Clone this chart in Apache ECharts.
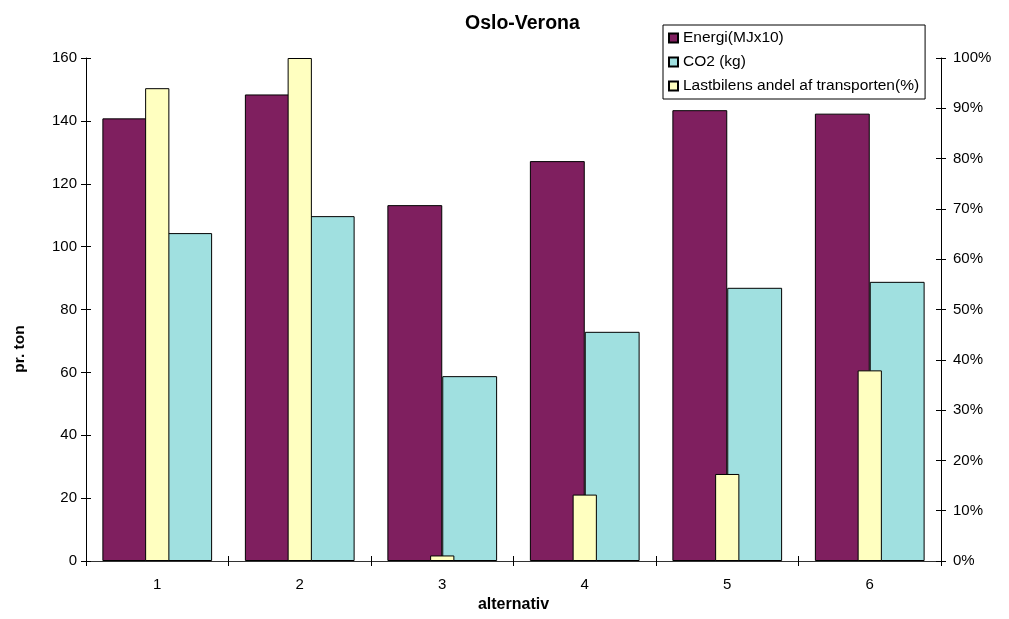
<!DOCTYPE html>
<html>
<head>
<meta charset="utf-8">
<script src="https://cdn.jsdelivr.net/npm/echarts@6/dist/echarts.min.js"></script>
<style>
  html, body { margin: 0; padding: 0; background: #fff; }
  #chart { width: 1009px; height: 619px; }
</style>
</head>
<body>
<div id="chart"></div>
<script>
// Categories and series values
const categories = ['1', '2', '3', '4', '5', '6'];
const energi = [140.8, 148.4, 113.2, 127.2, 143.4, 142.3];   // Energi(MJx10)
const co2 = [104.3, 109.7, 58.8, 72.9, 86.9, 88.8];          // CO2 (kg)
const lastbil = [0.94, 1.00, 0.011, 0.132, 0.173, 0.379];    // share of transport by truck
const leftTicks = { min: 0, max: 160, interval: 20 };
const rightTicks = { min: 0, max: 1, interval: 0.1 };

const FONT = "'Liberation Sans', Arial, sans-serif";
const border = { borderColor: '#000', borderWidth: 1 };

const chart = echarts.init(document.getElementById('chart'), null, { renderer: 'canvas' });

const option = {
  animation: false,
  backgroundColor: '#fff',
  textStyle: { fontFamily: FONT, color: '#000' },
  title: {
    text: 'Oslo-Verona',
    left: 460,
    top: 9,
    textStyle: { fontFamily: FONT, fontSize: 19.5, fontWeight: 'bold', color: '#000' }
  },
  legend: {
    orient: 'vertical',
    left: 663,
    top: 25,
    padding: [5, 6, 5, 5],
    itemGap: 8,
    itemWidth: 9,
    itemHeight: 9,
    icon: 'rect',
    borderColor: '#000',
    borderWidth: 1,
    textStyle: { fontFamily: FONT, fontSize: 15.5, color: '#000' },
    data: ['Energi(MJx10)', 'CO2 (kg)', 'Lastbilens andel af transporten(%)']
  },
  grid: { left: 86, right: 68, top: 58, bottom: 58, containLabel: false },
  xAxis: [
    {
      type: 'category',
      data: categories,
      position: 'bottom',
      name: 'alternativ',
      nameLocation: 'middle',
      nameGap: 36,
      nameTextStyle: { fontFamily: FONT, fontSize: 16, fontWeight: 'bold', color: '#000' },
      axisLine: { lineStyle: { color: '#333', width: 1 } },
      axisTick: { show: true, inside: false, length: 5, lineStyle: { color: '#000' } },
      axisLabel: { fontFamily: FONT, fontSize: 15, color: '#000', margin: 16 },
      splitLine: { show: false }
    },
    {
      // companion axis: carries the percentage bars and the inner half of the ticks
      type: 'category',
      data: categories,
      position: 'bottom',
      axisLine: { show: false },
      axisTick: { show: true, inside: true, length: 5, lineStyle: { color: '#000' } },
      axisLabel: { show: false },
      splitLine: { show: false }
    }
  ],
  yAxis: [
    {
      type: 'value',
      position: 'left',
      min: leftTicks.min, max: leftTicks.max, interval: leftTicks.interval,
      axisLine: { show: true, lineStyle: { color: '#000', width: 1 } },
      axisTick: { show: true, inside: false, length: 5, lineStyle: { color: '#000' } },
      axisLabel: { fontFamily: FONT, fontSize: 15, color: '#000', margin: 9 },
      splitLine: { show: false }
    },
    {
      type: 'value',
      position: 'right',
      min: rightTicks.min, max: rightTicks.max, interval: rightTicks.interval,
      axisLine: { show: true, lineStyle: { color: '#000', width: 1 } },
      axisTick: { show: true, inside: false, length: 5, lineStyle: { color: '#000' } },
      axisLabel: {
        fontFamily: FONT, fontSize: 15, color: '#000', margin: 12,
        formatter: v => Math.round(v * 100) + '%'
      },
      splitLine: { show: false }
    },
    {
      type: 'value',
      position: 'left',
      min: leftTicks.min, max: leftTicks.max, interval: leftTicks.interval,
      axisLine: { show: false },
      axisTick: { show: true, inside: true, length: 5, lineStyle: { color: '#000' } },
      axisLabel: { show: false },
      splitLine: { show: false }
    },
    {
      type: 'value',
      position: 'right',
      min: rightTicks.min, max: rightTicks.max, interval: rightTicks.interval,
      axisLine: { show: false },
      axisTick: { show: true, inside: true, length: 5, lineStyle: { color: '#000' } },
      axisLabel: { show: false },
      splitLine: { show: false }
    }
  ],
  series: [
    {
      name: 'Energi(MJx10)',
      type: 'bar',
      xAxisIndex: 0, yAxisIndex: 0,
      data: energi,
      barGap: '0%',
      barCategoryGap: '23%',
      itemStyle: Object.assign({ color: '#7F1F5F' }, border),
      z: 2
    },
    {
      name: 'CO2 (kg)',
      type: 'bar',
      xAxisIndex: 0, yAxisIndex: 0,
      data: co2,
      barGap: '0%',
      barCategoryGap: '23%',
      itemStyle: Object.assign({ color: '#A0E0E0' }, border),
      z: 2
    },
    {
      name: 'Lastbilens andel af transporten(%)',
      type: 'bar',
      xAxisIndex: 1, yAxisIndex: 1,
      data: lastbil,
      barWidth: '17%',
      itemStyle: Object.assign({ color: '#FFFFC0' }, border),
      z: 3
    }
  ],
  graphic: [
    {
      type: 'text',
      x: 20,
      y: 349,
      rotation: Math.PI / 2,
      style: {
        text: 'pr. ton',
        fontFamily: FONT,
        fontSize: 15.5,
        fontWeight: 'bold',
        fill: '#000',
        textAlign: 'center',
        textVerticalAlign: 'middle'
      }
    }
  ]
};

chart.setOption(option);
</script>
</body>
</html>
